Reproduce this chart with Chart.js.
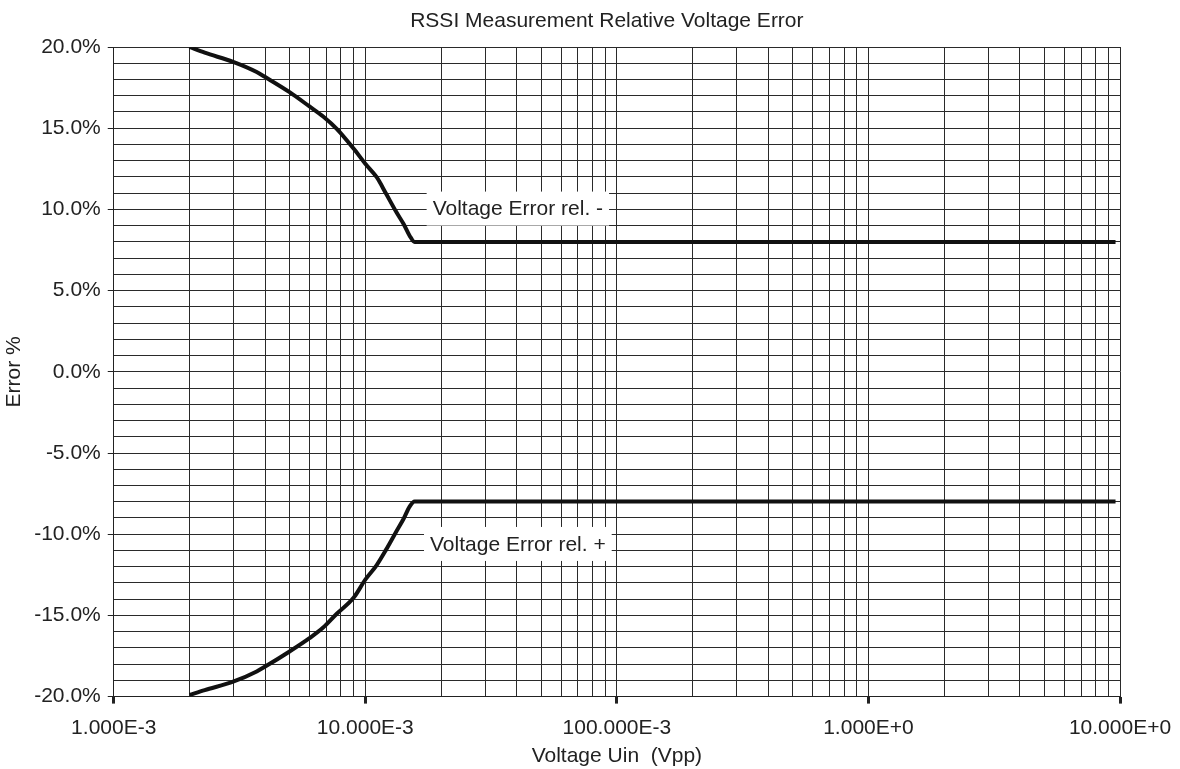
<!DOCTYPE html>
<html>
<head>
<meta charset="utf-8">
<script src="https://cdn.jsdelivr.net/npm/chart.js@4/dist/chart.umd.min.js"></script>
<style>
  html, body { margin: 0; background: #fff; }
  #wrap { width: 1180px; height: 769px; }
</style>
</head>
<body>
<div id="wrap"><canvas id="myChart"></canvas></div>
<script>
// voltage points (Vpp)
const voltage = [0.0020, 0.0023, 0.0030, 0.0037, 0.0040, 0.0050, 0.0060, 0.0068, 0.0077, 0.0090,
  0.0100, 0.0111, 0.0121, 0.0133, 0.0142, 0.0150, 0.0157, 9.6];
// relative error in %
const errMinus = [20.0, 19.65, 19.07, 18.46, 18.15, 17.22, 16.34, 15.72, 14.96, 13.73,
  12.81, 11.98, 10.96, 9.82, 9.1, 8.38, 8.0, 8.0];
const errPlus = [-19.9, -19.6, -19.07, -18.45, -18.15, -17.22, -16.4, -15.75, -14.9, -13.9,
  -12.8, -11.9, -10.95, -9.82, -9.05, -8.3, -7.98, -7.98];

const seriesNames = ["Voltage Error rel. -", "Voltage Error rel. +"];
const chartTitle = "RSSI Measurement Relative Voltage Error";

const xTickValues = [0.001, 0.01, 0.1, 1, 10];
const xTickLabels = ["1.000E-3", "10.000E-3", "100.000E-3", "1.000E+0", "10.000E+0"];
const yTickValues = [-20, -15, -10, -5, 0, 5, 10, 15, 20];
const yTickLabels = ["-20.0%", "-15.0%", "-10.0%", "-5.0%", "0.0%", "5.0%", "10.0%", "15.0%", "20.0%"];

const FONT = "'Liberation Sans', Arial, sans-serif";
const INK = "#222";
const GRID = "#2a2a2a";

function xIndex(v) {
  return xTickValues.findIndex(t => Math.abs(v / t - 1) < 1e-6);
}
function yIndex(v) {
  return yTickValues.findIndex(t => Math.abs(v - t) < 1e-6);
}

// white boxed labels next to the curves
const curveLabels = {
  id: "curveLabels",
  beforeDatasetsDraw(chart) {
    const { ctx, scales: { x, y } } = chart;
    const spots = [[0.0404, 10.05], [0.0404, -10.6]];
    ctx.save();
    ctx.font = "21px " + FONT;
    ctx.textAlign = "center";
    ctx.textBaseline = "middle";
    chart.data.datasets.forEach((ds, i) => {
      const px = x.getPixelForValue(spots[i][0]);
      const py = y.getPixelForValue(spots[i][1]);
      const w = ctx.measureText(ds.label).width + 12;
      ctx.fillStyle = "#fff";
      ctx.fillRect(px - w / 2, py - 17, w, 34);
      ctx.fillStyle = INK;
      ctx.fillText(ds.label, px, py + 1);
    });
    ctx.restore();
  }
};

// title drawn a bit left of the plot centre, like the original
const titleText = {
  id: "titleText",
  afterDraw(chart) {
    const { ctx, chartArea } = chart;
    ctx.save();
    ctx.font = "21px " + FONT;
    ctx.fillStyle = INK;
    ctx.textAlign = "center";
    ctx.textBaseline = "middle";
    ctx.fillText(chartTitle, (chartArea.left + chartArea.right) / 2 - 10, 21);
    ctx.restore();
  }
};

new Chart("myChart", {
  type: "line",
  data: {
    datasets: [
      {
        label: seriesNames[0],
        data: voltage.map((v, i) => ({ x: v, y: errMinus[i] })),
        borderColor: "#111",
        borderWidth: 4,
        pointRadius: 0,
        cubicInterpolationMode: "monotone",
        fill: false,
      },
      {
        label: seriesNames[1],
        data: voltage.map((v, i) => ({ x: v, y: errPlus[i] })),
        borderColor: "#111",
        borderWidth: 4,
        pointRadius: 0,
        cubicInterpolationMode: "monotone",
        fill: false,
      },
    ],
  },
  options: {
    responsive: true,
    maintainAspectRatio: false,
    animation: false,
    layout: { padding: { left: 0, right: 60, top: 47, bottom: 0 } },
    plugins: {
      legend: { display: false },
      tooltip: { enabled: false },
      title: { display: false },
    },
    scales: {
      x: {
        type: "logarithmic",
        min: 0.001,
        max: 10,
        afterBuildTicks(axis) {
          const ticks = [];
          for (let e = -3; e < 1; e++) {
            for (let k = 1; k < 10; k++) ticks.push({ value: k * Math.pow(10, e) });
          }
          ticks.push({ value: 10 });
          axis.ticks = ticks;
        },
        afterFit(axis) {
          axis.paddingRight = 0;
        },
        ticks: {
          autoSkip: false,
          maxRotation: 0,
          padding: 12,
          color: INK,
          font: { family: FONT, size: 21 },
          callback: (v) => {
            const i = xIndex(v);
            return i < 0 ? "" : xTickLabels[i];
          },
        },
        grid: {
          color: GRID,
          lineWidth: 1,
          tickLength: 7,
          tickColor: (c) => (c.tick && xIndex(c.tick.value) >= 0 ? INK : "rgba(0,0,0,0)"),
          tickWidth: (c) => (c.tick && xIndex(c.tick.value) >= 0 ? 3 : 1),
        },
        border: { color: INK, width: 1 },
        title: {
          display: true,
          text: "Voltage Uin  (Vpp)",
          color: INK,
          font: { family: FONT, size: 21 },
          padding: { top: -9, bottom: 0 },
        },
      },
      y: {
        type: "linear",
        min: -20,
        max: 20,
        afterBuildTicks(axis) {
          const ticks = [];
          for (let v = -20; v <= 20; v++) ticks.push({ value: v });
          axis.ticks = ticks;
        },
        ticks: {
          autoSkip: false,
          padding: 7,
          color: INK,
          font: { family: FONT, size: 21 },
          callback: (v) => {
            const i = yIndex(v);
            return i < 0 ? "" : yTickLabels[i];
          },
        },
        grid: {
          color: GRID,
          lineWidth: 1,
          tickLength: 6,
          tickColor: (c) => (c.tick && yIndex(c.tick.value) >= 0 ? INK : "rgba(0,0,0,0)"),
        },
        border: { color: INK, width: 1 },
        title: {
          display: true,
          text: "Error %",
          color: INK,
          font: { family: FONT, size: 21 },
          padding: { top: 2, bottom: 0 },
        },
      },
    },
  },
  plugins: [curveLabels, titleText],
});
</script>
</body>
</html>
